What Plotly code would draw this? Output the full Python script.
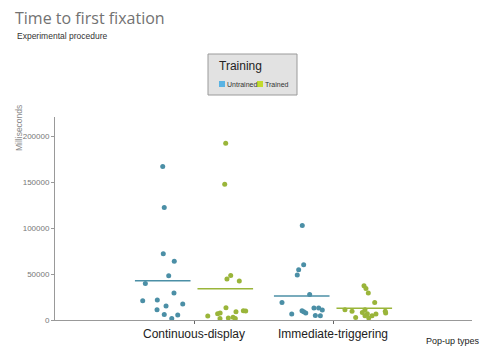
import plotly.graph_objects as go

categories = ["Continuous-display", "Immediate-triggering"]
groups = ["Untrained", "Trained"]

# values (ms)
cont_untrained = [167000, 122400, 72000, 64000, 48200, 39800, 29300, 21000, 21700,
                  17400, 15200, 11200, 6100, 5400, 1700]
cont_untrained_jit = [-0.225, -0.214, -0.221, -0.142, -0.182, -0.350, -0.144, -0.369, -0.264,
                      -0.081, -0.201, -0.266, -0.214, -0.117, -0.160]
cont_trained = [192400, 147800, 48500, 44500, 42400, 13400, 4300, 6800, 7600,
                1700, 2200, 2900, 1700, 8900, 10100, 9800]
cont_trained_jit = [0.228, 0.221, 0.264, 0.237, 0.326, 0.230, 0.099, 0.170, 0.188,
                    0.187, 0.247, 0.281, 0.297, 0.302, 0.355, 0.372]
imm_untrained = [102800, 60100, 54700, 48900, 27800, 19100, 6500, 10100, 9000,
                 7600, 13000, 13000, 10900, 5000, 4700]
imm_untrained_jit = [-0.221, -0.211, -0.247, -0.257, -0.168, -0.367, -0.297, -0.223, -0.211,
                     -0.196, -0.137, -0.103, -0.077, -0.127, -0.091]
imm_trained = [37300, 34400, 29300, 19100, 11200, 9400, 2800, 8300, 11200,
               6800, 4700, 6500, 9400, 7600, 2200, 4700]
imm_trained_jit = [0.223, 0.237, 0.254, 0.300, 0.086, 0.137, 0.163, 0.211, 0.230,
                   0.247, 0.281, 0.309, 0.376, 0.379, 0.257, 0.230]

y_ticks = [0, 50000, 100000, 150000, 200000]

dot_colors = {"Untrained": "#4b8fa6", "Trained": "#9ab53a"}
legend_colors = {"Untrained": "#5ab3e3", "Trained": "#c3da2e"}

data = {
    ("Continuous-display", "Untrained"): (cont_untrained, cont_untrained_jit),
    ("Continuous-display", "Trained"): (cont_trained, cont_trained_jit),
    ("Immediate-triggering", "Untrained"): (imm_untrained, imm_untrained_jit),
    ("Immediate-triggering", "Trained"): (imm_trained, imm_trained_jit),
}

fig = go.Figure()
for ci, cat in enumerate(categories):
    for g in groups:
        vals, jit = data[(cat, g)]
        fig.add_trace(go.Scatter(
            x=[ci + j for j in jit], y=vals, mode="markers",
            marker=dict(size=5, color=dot_colors[g]),
            showlegend=False, hoverinfo="y"))
        mean = sum(vals) / len(vals)
        if g == "Untrained":
            xs = [ci - 0.425, ci - 0.025]
        else:
            xs = [ci + 0.025, ci + 0.425]
        fig.add_trace(go.Scatter(
            x=xs, y=[mean, mean], mode="lines",
            line=dict(color=dot_colors[g], width=1.5),
            showlegend=False, hoverinfo="y"))

L, R, T, B = 55, 11, 117, 36
W, H = 483, 356
pw, ph = W - L - R, H - T - B


def px(x):
    return (x - L) / pw


def py(y):
    return (H - B - y) / ph


font_main = "Liberation Sans, Arial, sans-serif"
shapes = [
    dict(type="rect", xref="paper", yref="paper", x0=px(208), x1=px(297), y0=py(95), y1=py(54),
         fillcolor="#e2e2e2", line=dict(color="#9a9a9a", width=1), layer="above"),
    dict(type="rect", xref="paper", yref="paper", x0=px(219), x1=px(225), y0=py(87), y1=py(81),
         fillcolor=legend_colors["Untrained"], line=dict(width=0)),
    dict(type="rect", xref="paper", yref="paper", x0=px(257), x1=px(263), y0=py(87), y1=py(81),
         fillcolor=legend_colors["Trained"], line=dict(width=0)),
]

annotations = [
    dict(text="Time to first fixation", xref="paper", yref="paper", x=px(13), y=py(18),
         xanchor="left", yanchor="middle", showarrow=False,
         font=dict(family="Open Sans, sans-serif", size=16, color="#727272")),
    dict(text="Experimental procedure", xref="paper", yref="paper", x=px(15), y=py(36),
         xanchor="left", yanchor="middle", showarrow=False,
         font=dict(family=font_main, size=8.5, color="#333333")),
    dict(text="Milliseconds", xref="paper", yref="paper", x=px(19), y=py(128),
         xanchor="center", yanchor="middle", textangle=-90, showarrow=False,
         font=dict(family=font_main, size=8.5, color="#8a8a8a")),
    dict(text="Pop-up types", xref="paper", yref="paper", x=px(453), y=py(341),
         xanchor="center", yanchor="middle", showarrow=False,
         font=dict(family=font_main, size=9, color="#222222")),
    dict(text="Training", xref="paper", yref="paper", x=px(217), y=py(66),
         xanchor="left", yanchor="middle", showarrow=False,
         font=dict(family=font_main, size=12, color="#222222")),
    dict(text=groups[0], xref="paper", yref="paper", x=px(225), y=py(84),
         xanchor="left", yanchor="middle", showarrow=False,
         font=dict(family=font_main, size=7, color="#333333")),
    dict(text=groups[1], xref="paper", yref="paper", x=px(263), y=py(84),
         xanchor="left", yanchor="middle", showarrow=False,
         font=dict(family=font_main, size=7, color="#333333")),
]

fig.update_layout(
    width=W, height=H,
    margin=dict(l=L, r=R, t=T, b=B),
    paper_bgcolor="white", plot_bgcolor="white",
    shapes=shapes, annotations=annotations,
    showlegend=False,
    xaxis=dict(range=[-1, 2], tickvals=[0, 1], ticktext=categories,
               showgrid=False, zeroline=False, showline=True, linecolor="#999999",
               linewidth=1, ticks="outside", ticklen=3, tickcolor="#666666",
               tickfont=dict(family=font_main, size=12, color="#222222")),
    yaxis=dict(range=[0, 221000], tickvals=y_ticks, ticktext=[str(v) for v in y_ticks],
               showgrid=False, zeroline=False, showline=True, linecolor="#999999",
               linewidth=1, ticks="outside", ticklen=3, tickcolor="#999999",
               tickfont=dict(family=font_main, size=8, color="#777777")),
)

fig.write_html("out.html", config={"displayModeBar": False},
               post_script="document.body.style.margin='0';")
